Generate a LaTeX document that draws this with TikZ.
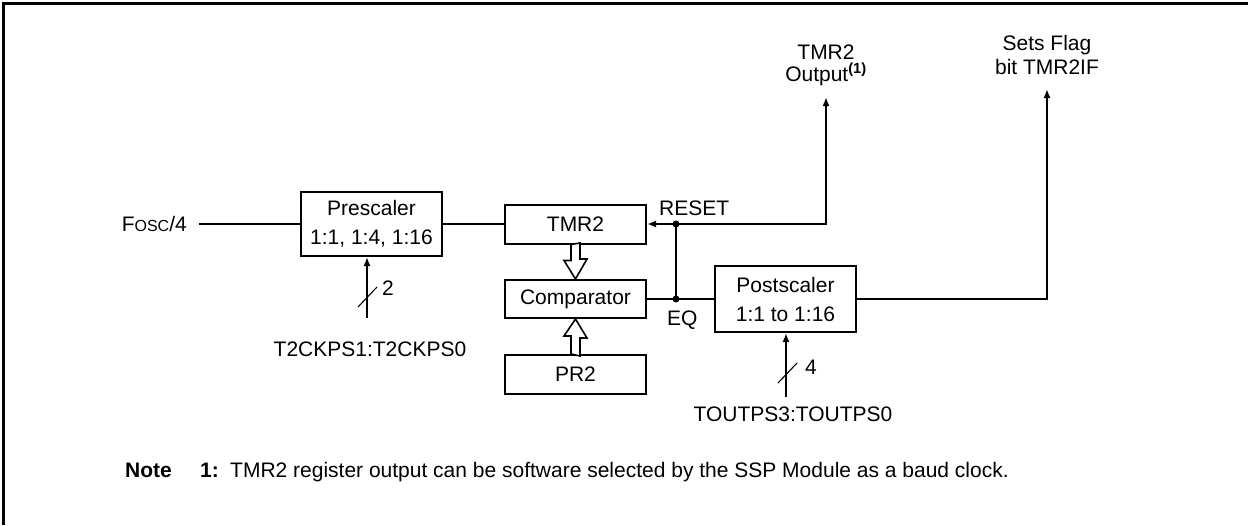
\documentclass[tikz,border=0pt]{standalone}
\usepackage{fontspec}
\setmainfont{Liberation Sans}
\usetikzlibrary{arrows.meta,calc}

\tikzset{
  blk/.style={draw, line width=2pt, minimum width=141pt, inner sep=0pt, align=center, font=\fontsize{21}{29}\selectfont},
  lbl/.style={inner sep=0pt, align=center, font=\fontsize{21}{24}\selectfont},
  sig/.style={line width=2pt},
  sigarr/.style={line width=2pt, -{Latex[length=9pt,width=7pt]}},
  hollow/.style={line width=1.6pt, fill=white},
  dot/.style={circle, fill, inner sep=0pt, minimum size=7pt},
  bus/.style={line width=1.1pt}
}

\begin{document}
\begin{tikzpicture}[x=1pt,y=-1pt]
\useasboundingbox (0,0) rectangle (1248,525);
\draw[line width=3pt] (3,525) -- (3,3) -- (1248,3);

% blocks
\node[blk, minimum height=64pt] (pre) at (371.5,224) {Prescaler\\1:1, 1:4, 1:16};
\node[blk, minimum height=39pt] (tmr) at (575.5,224) {TMR2};
\node[blk, minimum height=38pt] (cmp) at (575.5,299) {Comparator};
\node[blk, minimum height=39pt] (pr) at (575.5,374.5) {PR2};
\node[blk, minimum height=66pt] (post) at (785.5,299) {Postscaler\\1:1 to 1:16};

% hollow arrows
\draw[hollow] ([xshift=-4.5pt]tmr.south) -- ++(0,16) -- ++(-7,0) -- (cmp.north) -- ++(11.5,-20) -- ++(-7,0) -- ++(0,-16) -- cycle;
\draw[hollow] ([xshift=-4.5pt]pr.north) -- ++(0,-18) -- ++(-7,0) -- (cmp.south) -- ++(11.5,19) -- ++(-7,0) -- ++(0,18) -- cycle;

% clock in
\node[lbl, anchor=east] (fosc) at (187,224) {F{\fontsize{16}{16}\selectfont OSC}/4};
\draw[sig] ([xshift=12pt]fosc.east) -- (pre.west);
\draw[sig] (pre.east) -- (tmr.west);

% reset / eq
\coordinate (rst) at (676,224);
\coordinate (eq) at (676,299);
\coordinate (tout) at (826,97);
\coordinate (flag) at (1047,89);
\draw[sig] (cmp.east) -- (post.west);
\draw[sig] (eq) -- (rst);
\draw[sigarr] (rst) -- (tmr.east);
\draw[sigarr] (rst) -| (tout);
\draw[sigarr] (post.east) -| (flag);
\node[dot] at (rst) {};
\node[dot] at (eq) {};
\node[lbl, anchor=base west] at (659,215) {RESET};
\node[lbl, anchor=base west] at (667,325) {EQ};
\node[lbl] (toutlbl) at (826,65) {TMR2\\[-2pt]Output\textsuperscript{\bfseries(1)}};
\node[lbl] (flaglbl) at (1047,55) {Sets Flag\\bit TMR2IF};

% prescaler select
\node[lbl] (ckps) at (370,349) {T2CKPS1:T2CKPS0};
\coordinate (ckin) at (367,318);
\draw[sigarr] (ckin) -- (ckin |- pre.south);
\draw[bus] ([shift={(-9,-11)}]ckin) -- ++(19,-20);
\node[lbl, anchor=west] at (382,288) {2};

% postscaler select
\node[lbl] (tops) at (793,414) {TOUTPS3:TOUTPS0};
\coordinate (psin) at (786,397);
\draw[sigarr] (psin) -- (psin |- post.south);
\draw[bus] ([shift={(-8,-14)}]psin) -- ++(19,-20);
\node[lbl, anchor=west] at (805,367) {4};

% note
\node[anchor=west, inner sep=0pt, font=\fontsize{21}{24}\selectfont] (note) at (125,472) {\makebox[75pt][l]{\textbf{Note}}\makebox[30pt][l]{\textbf{1:}}TMR2 register output can be software selected by the SSP Module as a baud clock.};
\end{tikzpicture}
\end{document}
